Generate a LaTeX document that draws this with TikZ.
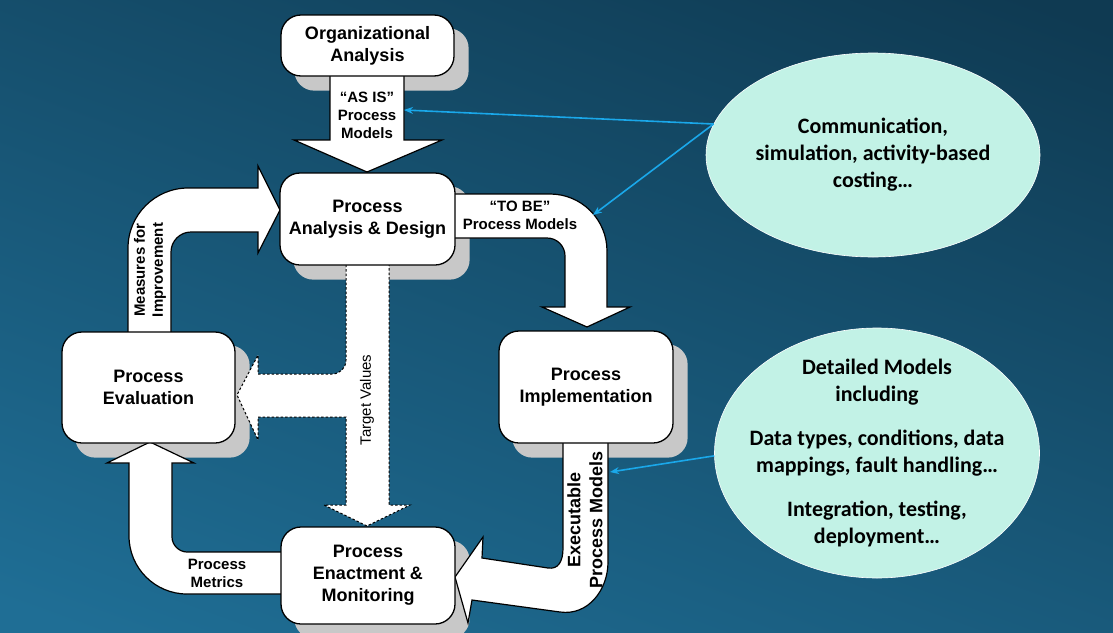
\documentclass[tikz,border=0pt]{standalone}
\usepackage{fontspec}
\setmainfont{Liberation Sans}
\newfontfamily\notefont{Carlito}
\usetikzlibrary{shapes.geometric,arrows.meta}
\definecolor{backtop}{HTML}{0F3A52}
\definecolor{backbottom}{HTML}{1F6E95}
\definecolor{boxshadow}{HTML}{C8C8C8}
\definecolor{notefill}{HTML}{C2F2E6}
\definecolor{pointer}{HTML}{1AA8EA}
\pgfdeclarelayer{backdrop}
\pgfdeclarelayer{flow}
\pgfsetlayers{backdrop,flow,main}

\begin{document}
\begin{tikzpicture}[
  x=1pt, y=-1pt,
  line join=round,
  stage/.style={draw=black, fill=white, line width=1.3pt, rounded corners=20pt, align=center, inner sep=0pt, font=\bfseries\fontsize{18}{22}\selectfont},
  flowarrow/.style={draw=black, fill=white, line width=1.2pt},
  targetarrow/.style={draw=black, fill=white, line width=1pt, dash pattern=on 2.5pt off 2pt},
  flowlabel/.style={align=center, inner sep=0pt, font=\bfseries\fontsize{15}{18}\selectfont},
  note/.style={ellipse, draw=white, line width=0.6pt, fill=notefill, align=center, inner sep=-50pt, font=\notefont\bfseries\fontsize{22}{27}\selectfont},
  pointer/.style={draw=pointer, line width=1.6pt, -{Stealth[length=9pt,width=7pt]}},
]
\useasboundingbox (0,0) rectangle (1113,632);
\node[stage, minimum width=173pt, minimum height=61pt] (orga) at (367.5,45.5) {Organizational\\Analysis};
\node[stage, minimum width=175pt, minimum height=92pt] (design) at (367.5,219) {Process\\Analysis \& Design};
\node[stage, minimum width=173pt, minimum height=111pt] (evaluation) at (148.5,387.5) {Process\\Evaluation};
\node[stage, minimum width=174pt, minimum height=112pt] (implementation) at (586,387) {Process\\Implementation};
\node[stage, minimum width=174pt, minimum height=97pt] (enactment) at (368,575.5) {Process\\Enactment \&\\Monitoring};

\begin{pgfonlayer}{backdrop}
\shade[top color=backtop, bottom color=backbottom, shading angle=-20] (-80,-80) rectangle (1193,712);
\foreach \n in {orga,design,evaluation,implementation,enactment}
  \fill[boxshadow, rounded corners=20pt] ([xshift=14pt,yshift=-14pt]\n.south west) rectangle ([xshift=14pt,yshift=-14pt]\n.north east);
\end{pgfonlayer}

\begin{pgfonlayer}{flow}
\draw[flowarrow] (330,70) -- (330,140) -- (294,140) -- (367,172) -- (442,140) -- (404,140) -- (404,70) -- cycle;
\draw[flowarrow] (450,194) -- (550,194) .. controls (581.5,194) and (607,219.5) .. (607,251) -- (607,307) -- (630,307) -- (587,327) -- (542,307) -- (565,307) -- (565,256) .. controls (565,246) and (557,238) .. (547,238) -- (450,238) -- cycle;
\draw[flowarrow] (563,438) -- (563,548) .. controls (563,562) and (558,569.5) .. (548,568) -- (482,558) -- (483,537) -- (455,577) -- (468,623) -- (472,600) -- (560,612) .. controls (588,616) and (608,590) .. (608,562) -- (608,438) -- cycle;
\draw[flowarrow] (290,552) -- (187,552) .. controls (179,552) and (172,545) .. (172,537) -- (172,463) -- (194,463) -- (150,442) -- (107,463) -- (129,463) -- (129,536) .. controls (129,568) and (155,594) .. (187,594) -- (290,594) -- cycle;
\draw[flowarrow] (128,338) -- (128,248) .. controls (128,215) and (155,188) .. (188,188) -- (258,188) -- (258,166) -- (280,210) -- (258,253) -- (258,232) -- (191,232) .. controls (180,232) and (171,241) .. (171,252) -- (171,338) -- cycle;
\draw[targetarrow] (346,260) -- (346,360) .. controls (346,368) and (340,374) .. (332,374) -- (258,374) -- (258,355) -- (237,395) -- (258,440) -- (258,417) -- (346,417) -- (346,505) -- (324,505) -- (367,526) -- (410,505) -- (389,505) -- (389,260) -- cycle;
\end{pgfonlayer}

\node[flowlabel] (asis) at (367,115) {``AS IS''\\Process\\Models};
\node[flowlabel] (tobe) at (520,215.5) {``TO BE''\\Process Models};
\node[flowlabel, rotate=90] (measures) at (150,270) {Measures for\\Improvement};
\node[flowlabel] (metrics) at (217,573.5) {Process\\Metrics};
\node[rotate=90, inner sep=0pt, font=\fontsize{15}{18}\selectfont] (target) at (367,400) {Target Values};
\node[rotate=90, align=center, inner sep=0pt, font=\bfseries\fontsize{18}{22}\selectfont] (executable) at (585,520) {Executable\\Process Models};

\node[note, minimum width=334pt, minimum height=204pt] (commnote) at (873,155) {Communication,\\simulation, activity-based\\costing\dots};
\node[note, minimum width=325pt, minimum height=250pt] (detailnote) at (877,453) {Detailed Models\\including\\[17pt]Data types, conditions, data\\mappings, fault handling\dots\\[17pt]Integration, testing,\\deployment\dots};

\coordinate (asisend) at (404,110);
\coordinate (tobeend) at (593,215);
\coordinate (execend) at (610,472);
\draw[pointer] (commnote.169) -- (asisend);
\draw[pointer] (commnote.169) -- (tobeend);
\draw[pointer] (detailnote.181) -- (execend);
\end{tikzpicture}
\end{document}
